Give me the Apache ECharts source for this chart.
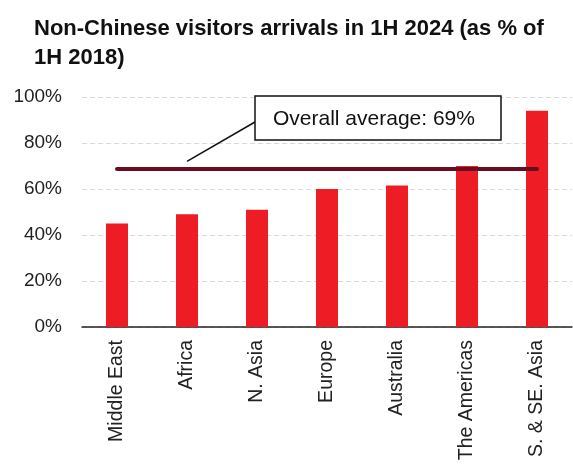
<!DOCTYPE html>
<html><head><meta charset="utf-8">
<script src="https://cdn.jsdelivr.net/npm/echarts@6/dist/echarts.min.js"></script>
<style>html,body{margin:0;padding:0;background:#fff}#c{width:573px;height:470px}</style>
</head><body><div id="c"></div>
<script>
const categories = ['Middle East','Africa','N. Asia','Europe','Australia','The Americas','S. & SE. Asia'];
const values = [45, 49, 51, 60, 61.5, 70, 94];
const averageValue = 69;
const averageLabel = 'Overall average: 69%';
const yTicks = [0, 20, 40, 60, 80, 100];

const chart = echarts.init(document.getElementById('c'));
const FONT = '"Liberation Sans", Arial, sans-serif';
chart.setOption({
  animation: false,
  title: {
    text: 'Non-Chinese visitors arrivals in 1H 2024 (as % of\n1H 2018)',
    left: 29, top: 9,
    textStyle: {fontFamily: FONT, fontSize: 22, fontWeight: 'bold', color: '#111', lineHeight: 29}
  },
  grid: {left: 82, right: 1, top: 97, bottom: 143},
  xAxis: {
    type: 'category', data: categories,
    axisLine: {lineStyle: {color: '#222', width: 1.5}},
    axisTick: {show: false},
    axisLabel: {rotate: 90, fontFamily: FONT, fontSize: 19.5, color: '#222', margin: 13, interval: 0}
  },
  yAxis: {
    type: 'value', min: yTicks[0], max: yTicks[yTicks.length-1], interval: 20,
    axisLine: {show: false}, axisTick: {show: false},
    axisLabel: {formatter: '{value}%', fontFamily: FONT, fontSize: 19, color: '#222', margin: 20},
    splitLine: {lineStyle: {color: '#d9d9d9', type: [5, 3]}}
  },
  series: [{
    type: 'bar', data: values, barWidth: 22,
    itemStyle: {color: '#ee1c25'},
    markLine: {
      symbol: 'none', silent: true,
      label: {show: false},
      lineStyle: {color: '#6b0d22', width: 4, type: 'solid', cap: 'round'},
      data: [[{coord: [categories[0], averageValue]}, {coord: [categories[categories.length-1], averageValue]}]]
    }
  }]
});

const anchor = chart.convertToPixel({seriesIndex: 0}, [categories[1], averageValue + 3]);
const boxX = 255, boxY = 96, boxW = 246, boxH = 44;
chart.setOption({
  graphic: [
    {type: 'line', shape: {x1: anchor[0], y1: anchor[1], x2: boxX, y2: boxY + 26}, style: {stroke: '#111', lineWidth: 1.5}, z: 10},
    {type: 'rect', shape: {x: boxX, y: boxY, width: boxW, height: boxH}, style: {fill: '#fff', stroke: '#111', lineWidth: 1.5}, z: 10},
    {type: 'text', x: boxX + 18, y: boxY + boxH/2 + 1, style: {text: averageLabel, font: '21px "Liberation Sans", Arial, sans-serif', fill: '#111', textVerticalAlign: 'middle'}, z: 11}
  ]
});
</script></body></html>
